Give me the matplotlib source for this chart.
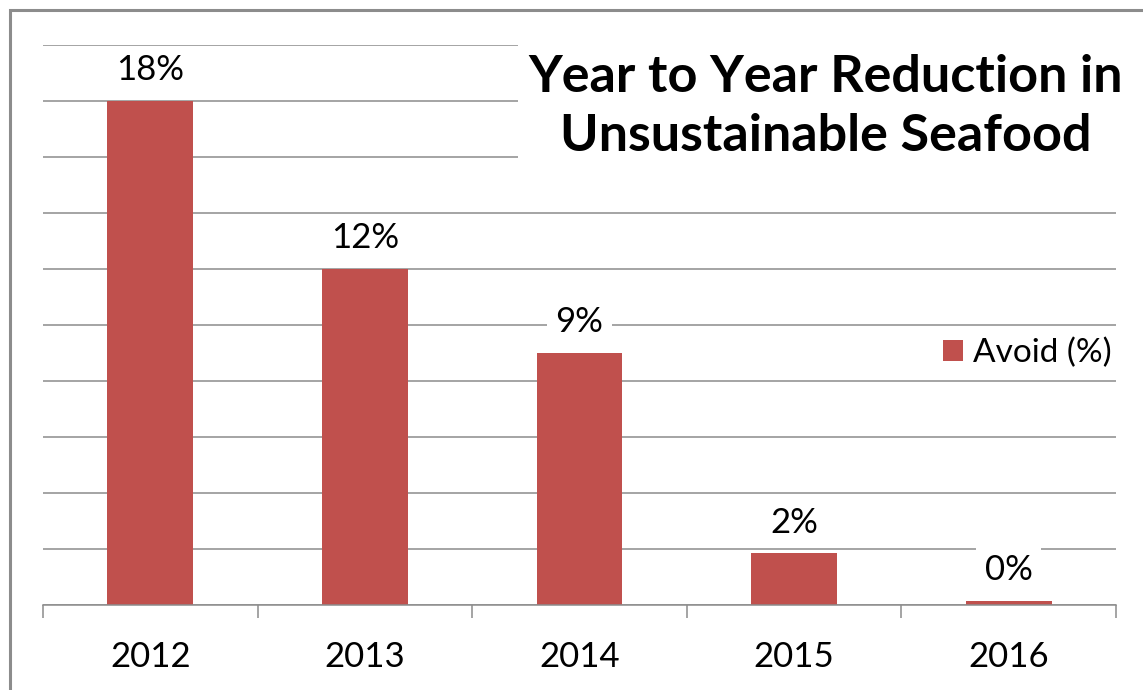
import matplotlib
matplotlib.use("Agg")
import matplotlib.pyplot as plt
from matplotlib.patches import Rectangle, Patch

years = ["2012", "2013", "2014", "2015", "2016"]
avoid = [18.0, 12.0, 9.0, 1.85, 0.15]
labels = ["18%", "12%", "9%", "2%", "0%"]
series_name = "Avoid (%)"
title = "Year to Year Reduction in\nUnsustainable Seafood"

plt.rcParams['font.family'] = ['Lato', 'DejaVu Sans']
W, H = 1143, 690
fig = plt.figure(figsize=(W / 100, H / 100), dpi=100)
fig.patch.set_facecolor('white')

# outer chart border
fig.add_artist(Rectangle((10 / W, -0.05), 1.2, (H - 10) / H + 0.05, transform=fig.transFigure,
                         fill=False, edgecolor='#8c8c8c', linewidth=2.2))

ax = fig.add_axes([43 / W, (H - 605) / H, (1116 - 43) / W, (605 - 45) / H])
bar_color = '#C0504D'
x = list(range(len(years)))
ax.bar(x, avoid, width=0.4, color=bar_color, zorder=2, label=series_name)
ax.set_xlim(-0.5, len(years) - 0.5)
ax.set_ylim(0, 20)
ax.set_yticks(range(0, 21, 2))
ax.yaxis.grid(True, color='#8c8c8c', linewidth=1.1)
ax.set_axisbelow(True)
ax.tick_params(axis='y', left=False, labelleft=False)
for s in ['top', 'right', 'left']:
    ax.spines[s].set_visible(False)
ax.spines['bottom'].set_color('#8c8c8c')
ax.spines['bottom'].set_linewidth(1.1)
ax.set_xticks(x)
ax.set_xticklabels(years, fontsize=25)
ax.tick_params(axis='x', which='major', length=0, pad=26)
ax.set_xticks([i - 0.5 for i in range(len(years) + 1)], minor=True)
ax.tick_params(axis='x', which='minor', length=9, width=1.1, color='#8c8c8c', direction='out')

for xi, v, lab in zip(x, avoid, labels):
    ax.annotate(lab, (xi, v), xytext=(0, 22), textcoords='offset points',
                ha='center', va='center', fontsize=25, zorder=4,
                bbox=dict(facecolor='white', edgecolor='none', pad=6))

fig.text(826 / W, 1 - 107 / H, title, ha='center', va='center', fontsize=37.5,
         fontweight='bold', linespacing=1.3,
         bbox=dict(facecolor='white', edgecolor='none', pad=8))

leg = ax.legend(handles=[Patch(facecolor=bar_color, label=series_name)], loc='center left',
                bbox_to_anchor=(943 / W, 1 - 353 / H), bbox_transform=fig.transFigure,
                frameon=False, fontsize=24, handlelength=0.6, handleheight=0.6,
                handletextpad=0.3, borderpad=0, borderaxespad=0)

fig.savefig('out.png', dpi=100)
